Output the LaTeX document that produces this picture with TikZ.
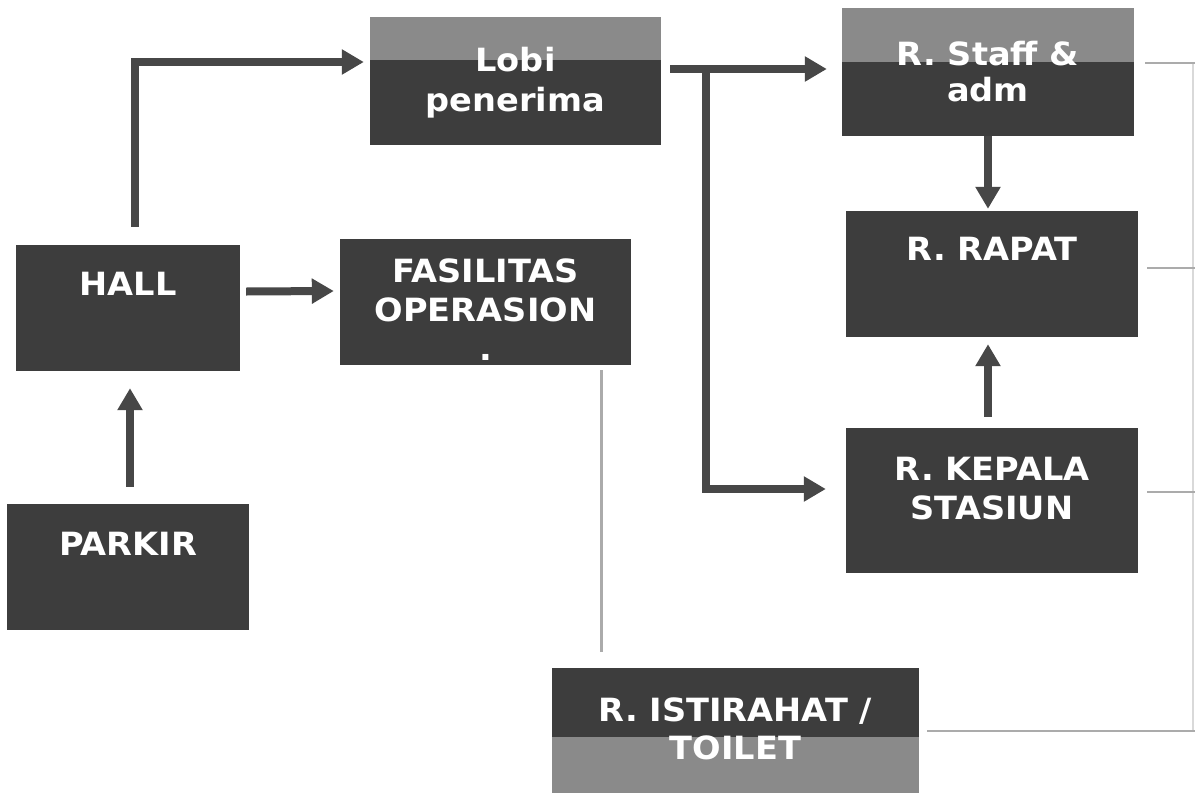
\documentclass[tikz,border=0pt]{standalone}
\usepackage{fontspec}
\setmainfont{DejaVu Sans}[FakeStretch=1.05]
\usetikzlibrary{arrows.meta}

\definecolor{roomgray}{HTML}{3D3D3D}
\definecolor{bandgray}{HTML}{8A8A8A}
\definecolor{flowgray}{HTML}{474747}
\definecolor{wiregray}{HTML}{ABABAB}

\tikzset{
  room/.style={fill=roomgray, inner sep=0pt},
  roomtext/.style={anchor=north, inner sep=0pt, text=white, align=center,
    font=\bfseries\fontsize{32}{39}\selectfont},
  band/.style={fill=bandgray},
  flow/.style={draw=flowgray, line width=8pt, line join=miter,
    -{Triangle[width=24pt,length=22pt]}},
  wire/.style={draw=wiregray, line width=2.5pt},
}

\begin{document}
\begin{tikzpicture}[x=1pt,y=-1pt]
  \clip (0,0) rectangle (1195,793);
  \fill[white] (0,0) rectangle (1195,793);

  % rooms
  \node[room, minimum width=224pt, minimum height=126pt] (hall) at (128,308) {};
  \node[room, minimum width=291pt, minimum height=126pt] (fas) at (485.5,302) {};
  \node[room, minimum width=242pt, minimum height=126pt] (parkir) at (128,567) {};
  \node[room, minimum width=291pt, minimum height=128pt] (lobi) at (515.5,81) {};
  \node[room, minimum width=292pt, minimum height=128pt] (staff) at (988,72) {};
  \node[room, minimum width=292pt, minimum height=126pt] (rapat) at (992,274) {};
  \node[room, minimum width=292pt, minimum height=145pt] (kepala) at (992,500.5) {};
  \node[room, minimum width=367pt, minimum height=132pt] (toilet) at (735.5,734) {};

  % lighter bands
  \fill[band] (lobi.north west) rectangle ([yshift=-43pt]lobi.north east);
  \fill[band] (staff.north west) rectangle ([yshift=-54pt]staff.north east);
  \fill[band] ([yshift=63pt]toilet.south west) rectangle (toilet.south east);

  % names
  \node[roomtext] (hall-txt) at ([yshift=-27pt]hall.north) {HALL};
  \node[roomtext] (fas-txt) at ([yshift=-20pt]fas.north) {FASILITAS\\OPERASION\\.};
  \node[roomtext] (parkir-txt) at ([yshift=-28pt]parkir.north) {PARKIR};
  \node[roomtext, font=\bfseries\fontsize{32}{40}\selectfont] (lobi-txt)
    at ([yshift=-30pt]lobi.north) {Lobi\\penerima};
  \node[roomtext, font=\bfseries\fontsize{32}{36}\selectfont] (staff-txt)
    at ([yshift=-33pt]staff.north) {R. Staff \&\\adm};
  \node[roomtext] (rapat-txt) at ([yshift=-26pt]rapat.north) {R. RAPAT};
  \node[roomtext] (kepala-txt) at ([yshift=-29pt]kepala.north) {R. KEPALA\\STASIUN};
  \node[roomtext, font=\bfseries\fontsize{32}{38}\selectfont] (toilet-txt)
    at ([yshift=-30pt]toilet.north) {R. ISTIRAHAT /\\TOILET};

  % flow arrows
  \draw[flow] ([xshift=7pt,yshift=18pt]hall.north) |- ([xshift=-6pt,yshift=19pt]lobi.west);
  \draw[flow] ([xshift=6pt,yshift=16.5pt]hall.east) -- ([xshift=-6pt,yshift=11pt]fas.west);
  \draw[flow] ([xshift=2pt,yshift=17pt]parkir.north) -- ([xshift=2pt,yshift=-17pt]hall.south);
  \draw[flow] ([xshift=9pt,yshift=12pt]lobi.east) -- ([xshift=-15pt,yshift=3pt]staff.west);
  \draw[flow] ([xshift=45pt,yshift=12pt]lobi.east) |- ([xshift=-20pt,yshift=11.5pt]kepala.west);
  \draw[flow] (staff.south) -- ([yshift=2pt]staff.south |- rapat.north);
  \draw[flow] ([xshift=-4pt,yshift=11pt]kepala.north) -- ([xshift=-4pt,yshift=-7pt]rapat.south);

  % grey links
  \coordinate (bustop) at (1193,63);
  \coordinate (busbot) at (1193,731);
  \coordinate (fasdrop) at ([xshift=116pt,yshift=-5pt]fas.south);
  \draw[wiregray!45, line width=1.5pt] (bustop) -- (busbot);
  \draw[wire] ([xshift=11pt,yshift=9pt]staff.east) -- ++(60,0);
  \draw[wire] ([xshift=9pt,yshift=6pt]rapat.east) -- ++(60,0);
  \draw[wire] ([xshift=9pt,yshift=8.5pt]kepala.east) -- ++(60,0);
  \draw[wire] ([xshift=8pt,yshift=3pt]toilet.east) -- ++(280,0);
  \draw[wire, shorten >=16pt] (fasdrop) -- (fasdrop |- toilet.north);
\end{tikzpicture}
\end{document}
